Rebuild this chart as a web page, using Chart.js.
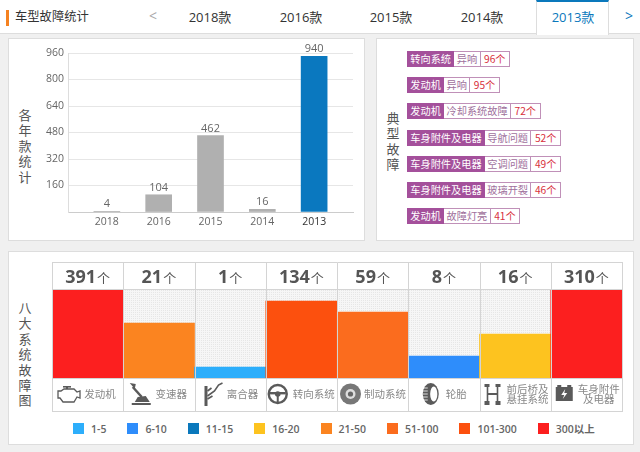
<!DOCTYPE html>
<html>
<head>
<meta charset="utf-8">
<script src="https://cdn.jsdelivr.net/npm/chart.js@4/dist/chart.umd.min.js"></script>
<style>
  * { box-sizing: border-box; }
  html, body { margin: 0; padding: 0; }
  body {
    width: 640px; height: 452px; position: relative; overflow: hidden;
    background: #f0f0f0; color: #444;
    font-family: "Open Sans", "Noto Sans CJK SC", sans-serif;
  }
  .header { position: absolute; left: 0; top: 0; width: 640px; height: 34px; background: #fff; border-bottom: 1px solid #ddd; }
  .header .mark { position: absolute; left: 6px; top: 10px; width: 3px; height: 16px; background: #f58220; }
  .header .title { position: absolute; left: 15px; top: 7px; font-size: 12.3px; line-height: 20px; color: #333; }
  .tab { position: absolute; top: 7px; width: 70px; margin-left: -35px; text-align: center; font-size: 13px; line-height: 20px; color: #333; }
  .tab.active { color: #0a78bc; }
  .activeTab { position: absolute; left: 536px; top: 0; width: 73px; height: 35px; background: #fff; border-top: 2px solid #0a78bc; border-left: 1px solid #ddd; border-right: 1px solid #ddd; }
  .arrow { position: absolute; top: 6px; font-size: 14px; line-height: 20px; }
  .panel { position: absolute; background: #fff; border: 1px solid #ddd; }
  canvas { position: absolute; }
  .vert { position: absolute; width: 16px; text-align: center; font-size: 13px; line-height: 15.4px; color: #555; font-family: "Noto Sans CJK SC", sans-serif; }
  .vert span { display: block; }
  .tagRow { position: absolute; left: 407px; height: 16px; display: flex; font-size: 10.2px; line-height: 14px; }
  .tagRow div { height: 16px; border: 1px solid #c090b8; border-left: none; white-space: nowrap; font-family: "Noto Sans CJK SC", sans-serif; }
  .tagRow .sys { background: #a4509b; color: #fff; border: 1px solid #a4509b; padding: 0 2.3px; }
  .tagRow .fault { color: #a0709c; background: #fff; padding: 0 2.4px; }
  .tagRow .num { color: #d8303c; background: #fff; padding: 0 3.5px; }
  #legend { position: absolute; left: 73px; top: 423px; display: flex; font-size: 10.5px; font-weight: 600; line-height: 12px; color: #666; white-space: nowrap; }
  #legend .item { display: flex; margin-right: 21px; }
  #legend i { display: block; width: 11px; height: 11px; margin-right: 7px; }
</style>
</head>
<body>
<div class="header">
  <div class="mark"></div>
  <div class="title">车型故障统计</div>
  <div class="activeTab"></div>
  <div class="arrow" style="left:149px;color:#aaa">&lt;</div>
  <div class="arrow" style="left:625px;color:#0a78bc">&gt;</div>
  <div id="tabs"></div>
</div>

<div class="panel" style="left:8px;top:38px;width:357px;height:203px"></div>
<div class="panel" style="left:376px;top:38px;width:258px;height:203px"></div>
<div class="panel" style="left:8px;top:251px;width:626px;height:194px"></div>

<div class="vert" id="vert1" style="left:17px;top:107px"></div>
<div class="vert" id="vert2" style="left:385px;top:110px"></div>
<div class="vert" id="vert3" style="left:17px;top:300px"></div>

<canvas id="yearChart" width="354" height="201" style="left:10px;top:39px"></canvas>
<div id="tags"></div>
<canvas id="systemChart" width="572" height="150" style="left:51px;top:262px"></canvas>
<div id="legend"></div>

<script>
const tabLabels = ["2018款", "2016款", "2015款", "2014款", "2013款"];
const tabCenters = [210, 301, 391, 482, 573];

// bar chart per model year
const years = ["2018", "2016", "2015", "2014", "2013"];
const yearValues = [4, 104, 462, 16, 940];
const yearColors = ["#b0b0b0", "#b0b0b0", "#b0b0b0", "#b0b0b0", "#0a78bf"];

// typical faults
const faultSystems = ["转向系统", "发动机", "发动机", "车身附件及电器", "车身附件及电器", "车身附件及电器", "发动机"];
const faultNames = ["异响", "异响", "冷却系统故障", "导航问题", "空调问题", "玻璃开裂", "故障灯亮"];
const faultCounts = [96, 95, 72, 52, 49, 46, 41];

// eight systems
const systemLabels = [["发动机"], ["变速器"], ["离合器"], ["转向系统"], ["制动系统"], ["轮胎"], ["前后桥及", "悬挂系统"], ["车身附件", "及电器"]];
const systemCounts = [391, 21, 1, 134, 59, 8, 16, 310];
const systemLevels = [8, 5, 1, 7, 6, 2, 4, 8];
const bandLabels = ["1-5", "6-10", "11-15", "16-20", "21-50", "51-100", "101-300", "300以上"];
const bandColors = ["#2daefb", "#2e8dfb", "#0a78bc", "#fdc31f", "#fb8420", "#fb6c1e", "#fc500e", "#fc1f1f"];

const cjk = '"Noto Sans CJK SC", sans-serif';
const latin = '"Open Sans", sans-serif';

// html bits
document.getElementById("tabs").innerHTML = tabLabels.map((t, i) =>
  `<div class="tab${i === 4 ? " active" : ""}" style="left:${tabCenters[i]}px">${t}</div>`).join("");

function vertical(id, text) {
  document.getElementById(id).innerHTML = text.split("").map((c) => `<span>${c}</span>`).join("");
}
vertical("vert1", "各年款统计");
vertical("vert2", "典型故障");
vertical("vert3", "八大系统故障图");

document.getElementById("tags").innerHTML = faultSystems.map((s, i) =>
  `<div class="tagRow" style="top:${51 + i * 26.2}px"><div class="sys">${s}</div><div class="fault">${faultNames[i]}</div><div class="num">${faultCounts[i]}个</div></div>`).join("");

document.getElementById("legend").innerHTML = bandLabels.map((b, i) =>
  `<div class="item"><i style="background:${bandColors[i]}"></i>${b}</div>`).join("");

// value labels above the bars
const yearLabelPlugin = {
  id: "yearLabels",
  afterDatasetsDraw(chart) {
    const ctx = chart.ctx;
    ctx.save();
    ctx.font = "11px " + latin;
    ctx.fillStyle = "#666";
    ctx.textAlign = "center";
    ctx.textBaseline = "middle";
    chart.getDatasetMeta(0).data.forEach((bar, i) => {
      ctx.fillText(yearValues[i], bar.x, bar.y - 7);
    });
    ctx.restore();
  },
};

new Chart(document.getElementById("yearChart").getContext("2d"), {
  type: "bar",
  data: {
    datasets: [
      {
        data: yearValues.map((v, i) => ({ x: i, y: v })),
        backgroundColor: yearColors,
        barThickness: 26,
      },
    ],
  },
  options: {
    responsive: false,
    animation: false,
    layout: { padding: { top: 14, right: 11, bottom: 0, left: 0 } },
    plugins: { legend: { display: false }, tooltip: { enabled: false } },
    scales: {
      x: {
        type: "linear",
        offset: false,
        min: -0.75,
        max: 4.75,
        afterBuildTicks: (scale) => {
          scale.ticks = years.map((y, i) => ({ value: i }));
        },
        afterFit: (scale) => {
          scale.height = 28;
        },
        grid: { display: false, drawTicks: false },
        border: { color: "#ccc" },
        ticks: {
          autoSkip: false,
          maxRotation: 0,
          padding: 4,
          font: { family: latin, size: 10.5 },
          color: (c) => (c.index === 4 ? "#333" : "#666"),
          callback: (v) => years[v],
        },
      },
      y: {
        min: 0,
        max: 960,
        afterFit: (scale) => {
          scale.width = 58;
        },
        grid: { color: "#e6e6e6", drawTicks: false },
        border: { color: "#ddd" },
        ticks: {
          stepSize: 160,
          padding: 4,
          font: { family: latin, size: 10.5 },
          color: "#666",
          callback: (v) => (v === 0 ? "" : v),
        },
      },
    },
  },
  plugins: [yearLabelPlugin],
});

// small grey icons under the system bars
const iconDrawers = [
  function engine(ctx) {
    ctx.lineWidth = 1.3;
    ctx.beginPath();
    ctx.moveTo(-11, -3); ctx.lineTo(-8, -3); ctx.lineTo(-5, -5); ctx.lineTo(5, -5); ctx.lineTo(8, -2);
    ctx.lineTo(11, -3); ctx.lineTo(11, 4); ctx.lineTo(8, 3); ctx.lineTo(5, 8); ctx.lineTo(-6, 8);
    ctx.lineTo(-9, 4); ctx.lineTo(-11, 4); ctx.closePath();
    ctx.stroke();
    ctx.fillRect(-6, -8, 8, 1.6);
    ctx.fillRect(-3, -7, 2, 2);
  },
  function gearLever(ctx) {
    ctx.lineWidth = 2.5;
    ctx.beginPath(); ctx.moveTo(-8, -7); ctx.lineTo(1, 3); ctx.stroke();
    ctx.beginPath(); ctx.moveTo(-11, -11); ctx.lineTo(-5, -10); ctx.lineTo(-6, -5); ctx.closePath(); ctx.fill();
    ctx.beginPath(); ctx.moveTo(-3, 3); ctx.lineTo(5, 2); ctx.lineTo(9, 8); ctx.lineTo(-6, 8); ctx.closePath(); ctx.fill();
    ctx.fillRect(-9, 9, 19, 2);
  },
  function clutch(ctx) {
    ctx.fillRect(-9, -8, 3, 20);
    ctx.lineWidth = 1.6;
    ctx.beginPath(); ctx.moveTo(-6, 2); ctx.lineTo(1, -3); ctx.lineTo(5, -9); ctx.lineTo(9, -11); ctx.stroke();
    ctx.beginPath(); ctx.moveTo(-6, -3); ctx.lineTo(-2, -6); ctx.stroke();
    ctx.beginPath(); ctx.moveTo(-6, 5); ctx.lineTo(-1, 2); ctx.stroke();
  },
  function wheel(ctx) {
    ctx.lineWidth = 2.4;
    ctx.beginPath(); ctx.arc(0, 0, 9, 0, Math.PI * 2); ctx.stroke();
    ctx.beginPath(); ctx.arc(0, 0, 2.8, 0, Math.PI * 2); ctx.fill();
    ctx.fillRect(-8, -2, 16, 2.4);
    ctx.lineWidth = 2;
    ctx.beginPath(); ctx.moveTo(0, 2); ctx.lineTo(0, 8); ctx.stroke();
  },
  function disc(ctx) {
    ctx.fillStyle = "#777";
    ctx.beginPath(); ctx.arc(0, 0, 10.5, 0, Math.PI * 2); ctx.fill();
    ctx.fillStyle = "#ddd";
    ctx.beginPath(); ctx.arc(0, 0, 5, 0, Math.PI * 2); ctx.fill();
    ctx.fillStyle = "#666";
    ctx.beginPath(); ctx.arc(0, 0, 2.6, 0, Math.PI * 2); ctx.fill();
  },
  function tire(ctx) {
    ctx.beginPath(); ctx.ellipse(-1, 0, 8, 11, 0, 0, Math.PI * 2); ctx.fill();
    ctx.fillStyle = "#fff";
    ctx.beginPath(); ctx.ellipse(2, 0, 3.6, 7.5, 0, 0, Math.PI * 2); ctx.fill();
    ctx.strokeStyle = "#fff";
    ctx.lineWidth = 0.8;
    [-6, -3, 0, 3, 6].forEach((y) => {
      ctx.beginPath(); ctx.moveTo(-9, y); ctx.lineTo(-4, y); ctx.stroke();
    });
  },
  function axle(ctx) {
    ctx.fillRect(-8, -10, 5, 3);
    ctx.fillRect(3, -10, 5, 3);
    ctx.fillRect(-8, 7, 5, 4);
    ctx.fillRect(3, 7, 5, 4);
    ctx.lineWidth = 1.6;
    ctx.beginPath(); ctx.moveTo(-5, -8); ctx.lineTo(-5, 8); ctx.moveTo(5, -8); ctx.lineTo(5, 8); ctx.stroke();
    ctx.fillRect(-5, -1, 10, 2);
  },
  function battery(ctx) {
    ctx.fillRect(-8.5, -7, 17, 14);
    ctx.fillRect(-7, -9, 4, 2);
    ctx.fillRect(3, -9, 4, 2);
    ctx.fillStyle = "#fff";
    ctx.beginPath();
    ctx.moveTo(1, -5); ctx.lineTo(-3, 1); ctx.lineTo(0, 1); ctx.lineTo(-1.5, 5); ctx.lineTo(3, -1); ctx.lineTo(0, -1);
    ctx.closePath();
    ctx.fill();
  },
];
const iconCenters = [17, 17.5, 19, 12, 13.5, 23.5, 13, 13.5];

// dotted track behind the bars, top row of counts, bottom row of labels and cell lines
const systemFramePlugin = {
  id: "systemFrame",
  beforeDatasetsDraw(chart) {
    const { ctx, chartArea } = chart;
    const tile = document.createElement("canvas");
    tile.width = 2;
    tile.height = 2;
    const t = tile.getContext("2d");
    t.fillStyle = "#f6f6f6";
    t.fillRect(0, 0, 2, 2);
    t.fillStyle = "#e6e6e6";
    t.fillRect(0, 0, 1, 1);
    ctx.save();
    ctx.fillStyle = ctx.createPattern(tile, "repeat");
    ctx.fillRect(chartArea.left, chartArea.top, chartArea.width, chartArea.height);
    ctx.restore();
  },
  afterDatasetsDraw(chart) {
    const { ctx, chartArea, scales, height } = chart;
    const colWidth = chartArea.width / systemCounts.length;
    const top = 0.5;
    const bottom = height - 0.5;
    ctx.save();
    ctx.strokeStyle = "#d4d4d4";
    ctx.lineWidth = 1;
    ctx.beginPath();
    for (let i = 0; i <= systemCounts.length; i++) {
      const x = Math.round(chartArea.left + i * colWidth) + 0.5;
      ctx.moveTo(x, top);
      ctx.lineTo(x, bottom);
    }
    [top, chartArea.top - 0.5, chartArea.bottom + 0.5, bottom].forEach((y) => {
      ctx.moveTo(chartArea.left, y);
      ctx.lineTo(chartArea.right + 1, y);
    });
    ctx.stroke();

    systemCounts.forEach((count, i) => {
      const center = scales.x.getPixelForValue(i);
      const left = center - colWidth / 2;

      // count + unit
      const text = String(count);
      ctx.textBaseline = "alphabetic";
      ctx.textAlign = "left";
      ctx.font = "bold 18px " + latin;
      const w1 = ctx.measureText(text).width;
      ctx.font = "13px " + cjk;
      const w2 = ctx.measureText("个").width;
      const start = center - (w1 + w2 + 1) / 2;
      ctx.font = "bold 18px " + latin;
      ctx.fillStyle = "#555";
      ctx.fillText(text, start, 20.5);
      ctx.font = "13px " + cjk;
      ctx.fillText("个", start + w1 + 1, 20.5);

      // name
      ctx.font = "10.5px " + cjk;
      ctx.fillStyle = "#888";
      ctx.textAlign = "center";
      ctx.textBaseline = "middle";
      const lines = systemLabels[i];
      lines.forEach((line, j) => {
        const y = 132 + (j - (lines.length - 1) / 2) * 10;
        ctx.fillText(line, left + 48, y);
      });

      // icon
      ctx.save();
      ctx.translate(left + iconCenters[i], 132);
      ctx.fillStyle = "#5a5a5a";
      ctx.strokeStyle = "#5a5a5a";
      iconDrawers[i](ctx);
      ctx.restore();
    });
    ctx.restore();
  },
};

new Chart(document.getElementById("systemChart").getContext("2d"), {
  type: "bar",
  data: {
    labels: systemLabels.map((l) => l.join("")),
    datasets: [
      {
        data: systemLevels,
        backgroundColor: systemLevels.map((l) => bandColors[l - 1]),
        barPercentage: 1,
        categoryPercentage: 1,
      },
    ],
  },
  options: {
    responsive: false,
    animation: false,
    layout: { padding: { top: 28, right: 1, bottom: 34, left: 1 } },
    plugins: { legend: { display: false }, tooltip: { enabled: false } },
    scales: {
      x: { display: false },
      y: { display: false, min: 0, max: 8 },
    },
  },
  plugins: [systemFramePlugin],
});
</script>
</body>
</html>
